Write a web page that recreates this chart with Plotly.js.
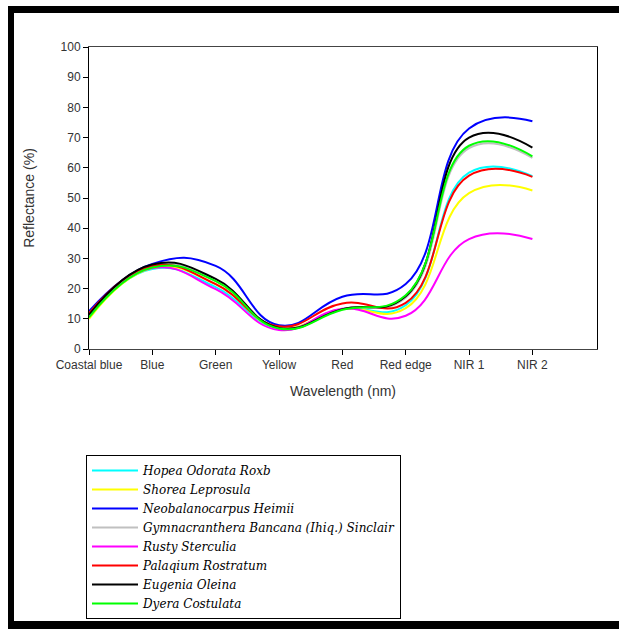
<!DOCTYPE html>
<html>
<head>
<meta charset="utf-8">
<script src="https://cdn.plot.ly/plotly-3.0.1.min.js"></script>
<style>html,body{margin:0;padding:0;background:#fff;}#chart{width:619px;height:629px;}</style>
</head>
<body>
<div id="chart"></div>
<script>
const categories = ["Coastal blue", "Blue", "Green", "Yellow", "Red", "Red edge", "NIR 1", "NIR 2"];
const seriesNames = ["Hopea Odorata Roxb", "Shorea Leprosula", "Neobalanocarpus Heimii",
  "Gymnacranthera Bancana (Ihiq.) Sinclair", "Rusty Sterculia", "Palaqium Rostratum",
  "Eugenia Oleina", "Dyera Costulata"];
const hopea      = [11.0, 26.5, 20.5, 6.8, 13.2, 14.5, 58.4, 57.2];
const shorea     = [10.0, 26.8, 21.5, 7.0, 13.2, 13.5, 51.6, 52.5];
const neobalano  = [12.5, 28.2, 27.5, 7.9, 17.3, 21.5, 73.0, 75.4];
const gymnacr    = [11.0, 27.5, 22.5, 7.0, 13.2, 17.0, 66.5, 63.3];
const rusty      = [11.0, 26.8, 19.8, 6.3, 13.3, 11.0, 36.4, 36.4];
const palaqium   = [11.8, 27.5, 21.5, 7.5, 15.1, 15.3, 57.4, 57.0];
const eugenia    = [11.3, 28.0, 23.2, 7.0, 13.2, 17.5, 70.0, 66.7];
const dyera      = [10.5, 27.0, 22.5, 6.8, 13.0, 17.8, 67.3, 63.8];
const yTicks = [0, 10, 20, 30, 40, 50, 60, 70, 80, 90, 100];

const allValues = [hopea, shorea, neobalano, gymnacr, rusty, palaqium, eugenia, dyera];
const colors = ["#00FFFF", "#FFFF00", "#0000FF", "#C0C0C0", "#FF00FF", "#FF0000", "#000000", "#00FF00"];

const idx = categories.map((c, i) => i);
const traces = allValues.map((vals, k) => ({
  x: idx, y: vals, name: seriesNames[k], type: "scatter", mode: "lines",
  line: {color: colors[k], width: 2, shape: "spline", smoothing: 1.3}
}));

const W = 619, H = 629, L = 89, R = 22, T = 47, B = 280;
const pw = W - L - R, ph = H - T - B;
const px = v => (v - L) / pw;
const py = v => (H - B - v) / ph;

const band = (x0, y0, x1, y1) => ({type: "rect", xref: "paper", yref: "paper",
  x0: px(x0), x1: px(x1), y0: py(y0), y1: py(y1), fillcolor: "#000", line: {width: 0}, layer: "above"});

const xRange = [0, 8.02];
const layout = {
  width: W, height: H,
  margin: {l: L, r: R, t: T, b: B, autoexpand: false},
  paper_bgcolor: "#fff", plot_bgcolor: "#fff",
  font: {family: "Liberation Sans, Arial, sans-serif", size: 12, color: "#333"},
  showlegend: true,
  legend: {x: px(86), y: py(455), xanchor: "left", yanchor: "top",
    bordercolor: "#000", borderwidth: 1, bgcolor: "#fff", itemwidth: 46,
    font: {family: "DejaVu Serif, serif", size: 12, style: "italic", color: "#000"},
    tracegroupgap: 0},
  xaxis: {type: "linear", range: xRange, tickvals: idx, ticktext: categories,
    showgrid: false, zeroline: false, showline: true, linecolor: "#444", linewidth: 1, mirror: true,
    ticks: "outside", ticklen: 5, tickcolor: "#000",
    tickfont: {size: 12, color: "#333"},
    title: {text: "Wavelength (nm)", font: {size: 14, color: "#333"}, standoff: 14}},
  xaxis2: {type: "linear", overlaying: "x", anchor: "y", side: "bottom", range: xRange,
    tickvals: idx, showticklabels: false, ticks: "inside", ticklen: 4, tickcolor: "#000",
    showgrid: false, zeroline: false, showline: false},
  yaxis: {range: [0, 100], tickvals: yTicks, ticktext: yTicks.map(String),
    showgrid: false, zeroline: false, showline: true, linecolor: "#000", linewidth: 1, mirror: true,
    ticks: "outside", ticklen: 5, tickcolor: "#000",
    tickfont: {size: 12, color: "#333"},
    title: {text: "Reflectance (%)", font: {size: 14, color: "#333"}, standoff: 22}},
  yaxis2: {range: [0, 100], overlaying: "y", anchor: "x", side: "left",
    tickvals: yTicks, showticklabels: false, ticks: "inside", ticklen: 4, tickcolor: "#000",
    showgrid: false, zeroline: false, showline: false},
  shapes: [
    band(8, 6, 619, 13),
    band(8, 6, 14, 629),
    band(8, 621, 619, 629)
  ]
};

Plotly.newPlot("chart", traces, layout, {displayModeBar: false, staticPlot: true});
</script>
</body>
</html>
